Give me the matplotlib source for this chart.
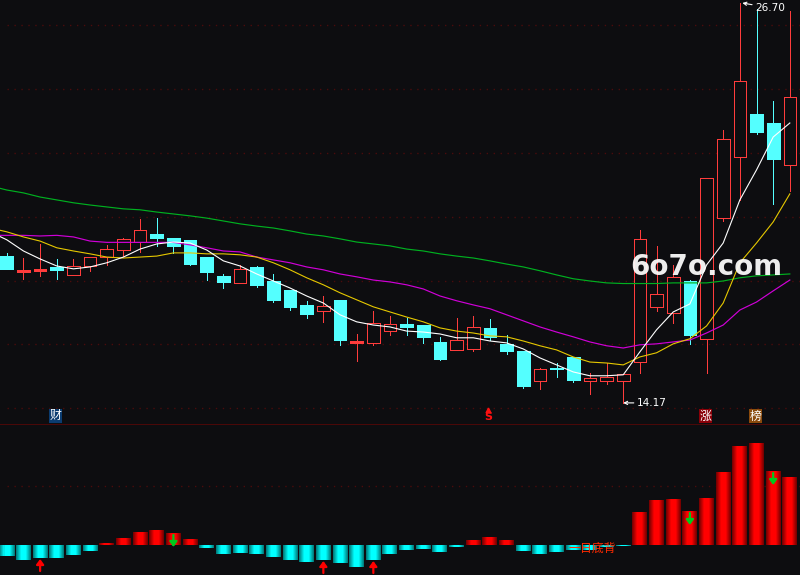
import numpy as np
import matplotlib
matplotlib.use('Agg')
import matplotlib.pyplot as plt
from matplotlib.colors import LinearSegmentedColormap

plt.rcParams['font.family'] = ['Noto Sans CJK SC', 'DejaVu Sans']

# candle data (body top / body bottom / high / low)
body_top = [18.77, 18.34, 18.37, 18.43, 18.46, 18.74, 18.99, 19.31, 19.59, 19.46, 19.34, 19.28,
            18.74, 18.15, 18.37, 18.43, 17.99, 17.71, 17.24, 17.21, 17.40, 16.11, 16.68, 16.65,
            16.65, 16.61, 16.08, 16.14, 16.55, 16.52, 16.02, 15.80, 15.24, 15.27, 15.61, 14.95,
            14.98, 15.08, 19.31, 17.58, 18.12, 17.99, 21.22, 22.44, 24.26, 23.22, 22.94, 23.76]
body_bot = [18.37, 18.27, 18.30, 18.34, 18.18, 18.46, 18.74, 18.96, 19.21, 19.34, 19.09, 18.52,
            18.27, 17.96, 17.93, 17.87, 17.40, 17.18, 16.96, 17.05, 16.14, 16.05, 16.05, 16.42,
            16.55, 16.24, 15.55, 15.83, 15.86, 16.24, 15.80, 14.70, 14.86, 15.24, 14.89, 14.86,
            14.86, 14.86, 15.45, 17.18, 16.99, 16.30, 16.18, 19.96, 21.88, 22.66, 21.81, 21.63]
high = [18.87, 18.71, 19.15, 18.68, 18.68, 18.74, 19.12, 19.34, 19.93, 19.97, 19.34, 19.28,
        18.74, 18.21, 18.49, 18.46, 18.21, 17.71, 17.37, 17.52, 17.40, 16.33, 17.05, 16.89,
        16.83, 16.61, 16.24, 16.83, 16.89, 16.80, 16.30, 15.80, 15.27, 15.42, 15.61, 15.11,
        15.42, 15.08, 19.59, 19.09, 18.49, 18.02, 21.22, 22.72, 26.70, 26.51, 23.63, 26.45]
low = [18.37, 18.05, 18.15, 18.05, 18.18, 18.30, 18.49, 18.77, 18.90, 19.09, 18.87, 18.49,
       18.02, 17.77, 17.93, 17.80, 17.33, 17.08, 16.83, 16.71, 15.99, 15.49, 15.99, 16.30,
       16.30, 16.05, 15.52, 15.83, 15.80, 16.14, 15.71, 14.64, 14.61, 14.98, 14.83, 14.45,
       14.76, 14.17, 15.11, 17.05, 16.68, 16.02, 15.11, 19.87, 20.53, 22.60, 20.40, 20.81]
is_up = [0, 1, 1, 0, 1, 1, 1, 1, 1, 0, 0, 0, 0, 0, 1, 0, 0, 0, 0, 1, 0, 1, 1, 1,
         0, 0, 0, 1, 1, 0, 0, 0, 1, 0, 0, 1, 1, 1, 1, 1, 1, 0, 1, 1, 1, 0, 0, 1]

# moving averages, first value is the day before the left edge
ma5 = [19.53, 19.28, 18.93, 18.68, 18.46, 18.37, 18.43, 18.56, 18.74, 18.99, 19.15, 19.21, 19.18,
       18.96, 18.62, 18.46, 18.21, 17.99, 17.77, 17.52, 17.30, 16.93, 16.71, 16.61, 16.55,
       16.42, 16.39, 16.33, 16.21, 16.21, 16.11, 16.05, 15.86, 15.58, 15.36, 15.14, 15.02,
       15.02, 15.05, 15.77, 16.46, 17.02, 17.27, 18.49, 19.18, 20.53, 21.47, 22.50, 22.94]
ma10 = [19.65, 19.53, 19.37, 19.24, 19.03, 18.93, 18.84, 18.74, 18.71, 18.74, 18.77, 18.87, 18.87,
        18.84, 18.84, 18.81, 18.74, 18.56, 18.34, 18.09, 17.87, 17.62, 17.40, 17.18, 17.02,
        16.86, 16.71, 16.52, 16.42, 16.36, 16.27, 16.24, 16.11, 15.96, 15.83, 15.61, 15.45,
        15.42, 15.36, 15.61, 15.74, 16.02, 16.18, 16.58, 17.30, 18.56, 19.18, 19.84, 20.72]
ma20 = [19.42, 19.42, 19.42, 19.40, 19.42, 19.37, 19.24, 19.20, 19.20, 19.20, 19.20, 19.20, 19.12,
        19.03, 18.93, 18.90, 18.74, 18.65, 18.56, 18.43, 18.34, 18.21, 18.12, 18.02, 17.96,
        17.87, 17.74, 17.52, 17.37, 17.24, 17.12, 16.93, 16.74, 16.55, 16.39, 16.24, 16.08,
        15.96, 15.89, 15.99, 16.02, 16.08, 16.14, 16.36, 16.61, 17.08, 17.33, 17.68, 18.02]
ma60 = [20.97, 20.84, 20.75, 20.62, 20.53, 20.44, 20.37, 20.31, 20.25, 20.22, 20.15, 20.09, 20.03,
        19.96, 19.87, 19.78, 19.71, 19.65, 19.56, 19.46, 19.40, 19.31, 19.21, 19.15, 19.09,
        18.99, 18.93, 18.84, 18.77, 18.71, 18.62, 18.52, 18.43, 18.31, 18.18, 18.06, 17.99,
        17.93, 17.91, 17.91, 17.91, 17.93, 17.93, 17.93, 17.99, 18.09, 18.15, 18.18, 18.21]

# histogram in the lower panel
macd = [-.22, -.30, -.26, -.26, -.20, -.12, .04, .14, .26, .30, .24, .12, -.06, -.18, -.16, -.18,
        -.24, -.30, -.34, -.30, -.36, -.44, -.30, -.18, -.10, -.08, -.14, -.04, .10, .16, .10, -.12,
        -.18, -.14, -.10, -.10, -.04, -.02, .66, .90, .92, .68, .94, 1.46, 1.98, 2.04, 1.48, 1.36]
buy_days = [2, 19, 22]
sell_days = [10, 41, 46]
price_levels = [14, 16, 18, 20, 22, 24, 26]
macd_level = 1.18
tags = [(3, '财', '#0b3c70'), (42, '涨', '#8a0008'), (45, '榜', '#8a4a0c')]

BG = '#0d0d10'
RED = '#ff3c3c'
CYAN = '#54ffff'
THIN = 0.72  # one pixel at dpi 100

fig = plt.figure(figsize=(8, 5.75), dpi=100, facecolor=BG)
ax = fig.add_axes([0, 152 / 575, 1, 423 / 575], facecolor=BG)
ax2 = fig.add_axes([0, 0, 1, 152 / 575], facecolor=BG)
days = np.arange(len(body_top))

# price panel
ax.hlines(price_levels, 0.0, 47.61, color='#4a0c0c', lw=1, linestyles=(0, (1, 4)), zorder=1)
for i in days:
    col = RED if is_up[i] else CYAN
    ax.vlines(i, low[i], high[i], color=col, lw=THIN, antialiased=False, zorder=2)
    h = body_top[i] - body_bot[i]
    # very short red bodies read as a solid dash
    face = CYAN if not is_up[i] else (RED if h < 0.08 else BG)
    ax.bar(i, h, 0.76, bottom=body_bot[i], facecolor=face,
           edgecolor=col, lw=THIN, joinstyle='miter', antialiased=False, zorder=3)

ma_days = np.arange(-1, len(ma5) - 1)
ax.plot(ma_days, ma60, color='#00b020', lw=0.85, zorder=4)
ax.plot(ma_days, ma20, color='#d000d8', lw=0.85, zorder=4)
ax.plot(ma_days, ma10, color='#e6c800', lw=0.8, zorder=4)
ax.plot(ma_days, ma5, color='white', lw=0.8, zorder=5)

arrow = dict(arrowstyle='->,head_width=0.15,head_length=0.3', color='white', lw=0.8, shrinkA=0, shrinkB=0)
ax.annotate('26.70', xy=(44.15, 26.70), xytext=(44.9, 26.55), color='white', fontsize=7.6,
            family='DejaVu Sans', va='center', arrowprops=arrow, zorder=7)
ax.annotate('14.17', xy=(37, 14.17), xytext=(37.8, 14.17), color='white', fontsize=7.6,
            family='DejaVu Sans', va='center', arrowprops=arrow, zorder=7)

ax.text(37.41, 18.42, '6o7o.com', color='white', fontsize=20, fontweight='bold', family='DejaVu Sans',
        ha='left', va='center', alpha=0.93, zorder=8)

for day, label, col in tags:
    ax.text(day - 0.08, 13.76, label, color='white', fontsize=8.6, ha='center', va='center', zorder=6,
            bbox=dict(boxstyle='square,pad=0.05', facecolor=col, edgecolor='none'))
ax.text(29 - 0.1, 13.72, 'S', color='#ff1010', fontsize=8, fontweight='bold', family='DejaVu Sans',
        ha='center', va='center', zorder=6)
ax.plot([29 - 0.1], [13.95], marker='^', ms=3.5, color='#ff1010', zorder=6)

ax.set_xlim(-0.408, 47.61)
ax.set_ylim(13.54, 26.794)
ax.axis('off')

# lower panel
red_map = LinearSegmentedColormap.from_list('r', ['#7a0000', '#ff0000', '#ff0000', '#7a0000'])
cyan_map = LinearSegmentedColormap.from_list('c', ['#007f7f', '#00ffff', '#00ffff', '#007f7f'])
shade = np.linspace(0, 1, 15).reshape(1, -1)
ax2.axhline(2.43, color='#4a0808', lw=THIN, zorder=1)
ax2.hlines(macd_level, 0, 47.61, color='#4a0c0c', lw=1, linestyles=(0, (1, 4)), zorder=1)
for i, v in enumerate(macd):
    ax2.imshow(shade, cmap=red_map if v > 0 else cyan_map, aspect='auto', interpolation='nearest',
               extent=(i - 0.45, i + 0.45, min(v, 0), max(v, 0)), zorder=2)

for d in buy_days:
    ax2.annotate('', xy=(d, macd[d] - 0.02), xytext=(d, macd[d] - 0.26), zorder=5,
                 arrowprops=dict(arrowstyle='-|>,head_width=0.22,head_length=0.3', color='#ff0000',
                                 lw=1.6, shrinkA=0, shrinkB=0))
for d in sell_days:
    ax2.annotate('', xy=(d, macd[d] - 0.28), xytext=(d, macd[d] - 0.04), zorder=5,
                 arrowprops=dict(arrowstyle='-|>,head_width=0.22,head_length=0.3', color='#00c81e',
                                 lw=1.6, shrinkA=0, shrinkB=0))

ax2.text(33.7, -0.06, '一日底背', color='#ff2a00', fontsize=8.6, ha='left', va='center', zorder=6)

ax2.set_xlim(-0.408, 47.61)
ax2.set_ylim(-0.6, 2.44)
ax2.axis('off')

fig.savefig('out.png', dpi=100, facecolor=BG)
